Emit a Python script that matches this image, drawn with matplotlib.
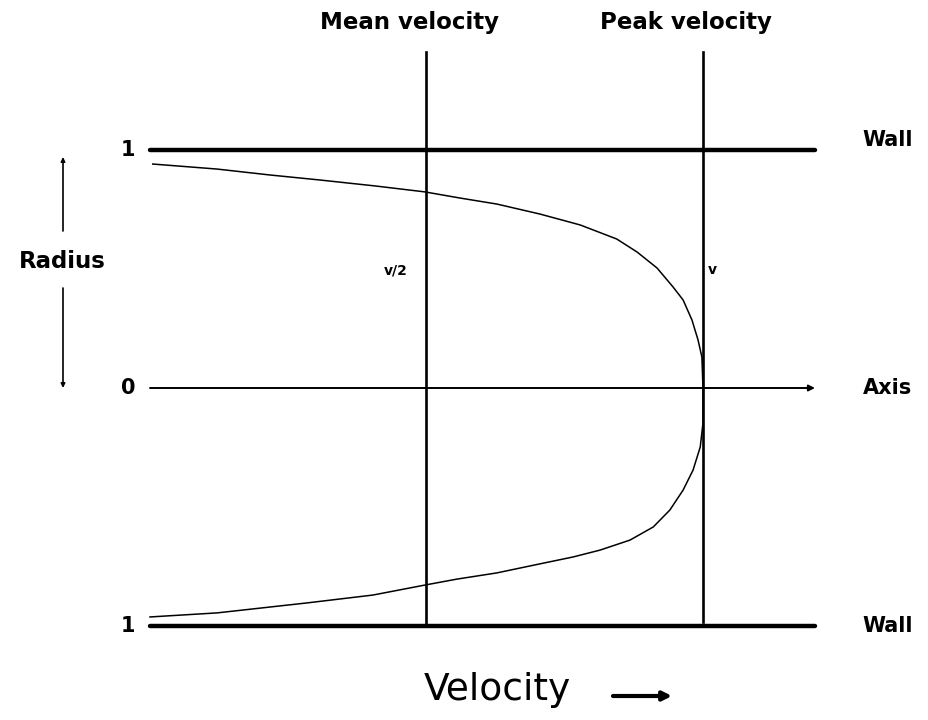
import matplotlib
matplotlib.use("Agg")
import matplotlib.pyplot as plt
import numpy as np

# ---- data (velocity as fraction of peak, radius as fraction of tube radius) ----
upper_velocity = [0.005, 0.121, 0.217, 0.307, 0.407, 0.497, 0.561, 0.627, 0.705, 0.778, 0.844, 0.881,
                  0.917, 0.946, 0.964, 0.980, 0.991, 0.998, 1.000]
upper_radius   = [0.941, 0.920, 0.895, 0.874, 0.849, 0.824, 0.798, 0.773, 0.731, 0.685, 0.626, 0.571,
                  0.504, 0.424, 0.370, 0.286, 0.202, 0.130, 0.000]
lower_velocity = [1.000, 1.000, 1.000, 0.995, 0.982, 0.964, 0.940, 0.910, 0.868, 0.814, 0.765, 0.705,
                  0.627, 0.555, 0.497, 0.403, 0.284, 0.121, 0.000]
lower_radius   = [0.000, -0.038, -0.147, -0.248, -0.345, -0.429, -0.513, -0.584, -0.639, -0.681, -0.710,
                  -0.739, -0.777, -0.803, -0.828, -0.870, -0.903, -0.945, -0.962]
mean_velocity = 0.5
peak_velocity = 1.0
wall_radius = [1, -1]
radius_ticks = [1, 0, -1]
radius_tick_labels = ["1", "0", "1"]

W, H = 929, 720
fig = plt.figure(figsize=(W / 100, H / 100), dpi=100)
fig.patch.set_facecolor("white")
ax = fig.add_axes([0, 0, 1, 1])
ax.set_axis_off()

# pixel mapping: velocity 0 -> 150 px, 1 -> 703 px; radius 0 -> 388 px, 238 px per unit
x0, xs = 150.0, 553.0
y0, ys = 388.0, 238.0
ax.set_xlim(-x0 / xs, (W - x0) / xs)
ax.set_ylim((y0 - H) / ys, y0 / ys)

def fx(px):
    return px / W

def fy(py):
    return 1 - py / H

x_end = (815 - x0) / xs
y_top = (y0 - 52) / ys

# walls
for r in wall_radius:
    ax.plot([0, x_end], [r, r], color="black", lw=3.2, solid_capstyle="round")

# axis line with arrow
ax.annotate("", xy=(x_end, 0), xytext=(0, 0),
            arrowprops=dict(arrowstyle="-|>", lw=1.4, color="black", mutation_scale=9,
                            shrinkA=0, shrinkB=0))

# mean & peak velocity lines
ax.plot([mean_velocity, mean_velocity], [wall_radius[1], y_top], color="black", lw=1.9)
ax.plot([peak_velocity, peak_velocity], [(y0 - 622) / ys, y_top], color="black", lw=1.9)

# velocity profile
ax.plot(upper_velocity, upper_radius, color="black", lw=1.1, solid_joinstyle="round")
ax.plot(lower_velocity, lower_radius, color="black", lw=1.1, solid_joinstyle="round")

bold = dict(fontfamily="DejaVu Sans", fontweight="bold", color="black")

# radius tick labels
for r, lab in zip(radius_ticks, radius_tick_labels):
    ax.text(-22 / xs, r, lab, ha="center", va="center", fontsize=15, **bold)

# right labels
ax.text((888 - x0) / xs, 1.04, "Wall", ha="center", va="center", fontsize=15, **bold)
ax.text((888 - x0) / xs, 0, "Axis", ha="center", va="center", fontsize=15, **bold)
ax.text((888 - x0) / xs, -1, "Wall", ha="center", va="center", fontsize=15, **bold)

# top labels
fig.text(fx(410), fy(22), "Mean velocity", ha="center", va="center", fontsize=16.5, **bold)
fig.text(fx(686), fy(22), "Peak velocity", ha="center", va="center", fontsize=16.5, **bold)

# small labels
ax.text(mean_velocity - 31 / xs, (y0 - 270) / ys, "v/2", ha="center", va="center", fontsize=10, **bold)
ax.text(peak_velocity + 9 / xs, (y0 - 270) / ys, "v", ha="center", va="center", fontsize=10, **bold)

# Radius label with arrows
fig.text(fx(62), fy(262), "Radius", ha="center", va="center", fontsize=16.5, **bold)
ax.annotate("", xy=(fx(63), fy(157)), xytext=(fx(63), fy(231)), xycoords="figure fraction",
            textcoords="figure fraction",
            arrowprops=dict(arrowstyle="-|>", lw=1.2, color="black", mutation_scale=6, shrinkA=0, shrinkB=0))
ax.annotate("", xy=(fx(63), fy(388)), xytext=(fx(63), fy(288)), xycoords="figure fraction",
            textcoords="figure fraction",
            arrowprops=dict(arrowstyle="-|>", lw=1.2, color="black", mutation_scale=6, shrinkA=0, shrinkB=0))

# Velocity label with arrow
fig.text(fx(497), fy(690), "Velocity", ha="center", va="center", fontsize=27,
         fontfamily="DejaVu Sans", color="black")
ax.annotate("", xy=(fx(672), fy(696)), xytext=(fx(613), fy(696)), xycoords="figure fraction",
            textcoords="figure fraction",
            arrowprops=dict(arrowstyle="-|>", lw=3.0, color="black", mutation_scale=13, shrinkA=0, shrinkB=0))

fig.savefig("out.png", dpi=100, facecolor="white")
